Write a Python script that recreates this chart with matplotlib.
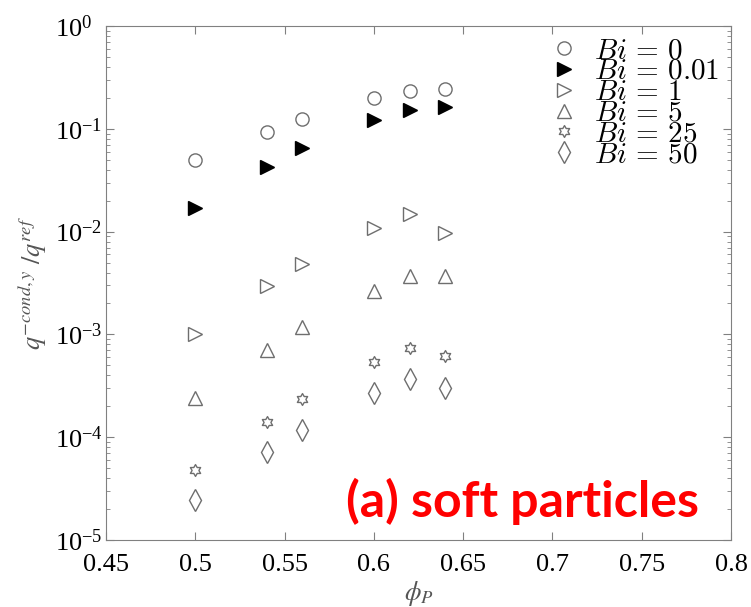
import numpy as np
import matplotlib
matplotlib.use("Agg")
import matplotlib.pyplot as plt
from matplotlib.path import Path

phi = [0.50, 0.54, 0.56, 0.60, 0.62, 0.64]
bi_labels = ["0", "0.01", "1", "5", "25", "50"]
q_bi0 = [0.050, 0.094, 0.124, 0.200, 0.233, 0.244]
q_bi001 = [0.0168, 0.0422, 0.065, 0.122, 0.152, 0.163]
q_bi1 = [1.0e-3, 2.98e-3, 4.8e-3, 0.0109, 0.0149, 0.0096]
q_bi5 = [2.42e-4, 7.05e-4, 1.19e-3, 2.66e-3, 3.7e-3, 3.7e-3]
q_bi25 = [4.83e-5, 1.42e-4, 2.35e-4, 5.35e-4, 7.38e-4, 6.2e-4]
q_bi50 = [2.45e-5, 7.1e-5, 1.17e-4, 2.71e-4, 3.68e-4, 3.03e-4]
series = [q_bi0, q_bi001, q_bi1, q_bi5, q_bi25, q_bi50]
xticks = [0.45, 0.5, 0.55, 0.6, 0.65, 0.7, 0.75, 0.8]
xticklabels = ["0.45", "0.5", "0.55", "0.6", "0.65", "0.7", "0.75", "0.8"]

# hexagram marker shape
ang_out = np.deg2rad(90 + 60 * np.arange(6))
ang_in = ang_out + np.deg2rad(30)
r_in = 1 / np.sqrt(3)
verts = []
for ao, ai in zip(ang_out, ang_in):
    verts.append((np.cos(ao), np.sin(ao)))
    verts.append((r_in * np.cos(ai), r_in * np.sin(ai)))
verts.append(verts[0])
hexagram = Path(verts, closed=True)

gray = "#6e6e6e"
styles = [
    dict(marker="o", mfc="none", mec=gray, ms=9.5),
    dict(marker=">", mfc="black", mec="black", ms=10),
    dict(marker=">", mfc="none", mec=gray, ms=10),
    dict(marker="^", mfc="none", mec=gray, ms=10),
    dict(marker=hexagram, mfc="none", mec=gray, ms=8.5),
    dict(marker="d", mfc="none", mec=gray, ms=11),
]

plt.rcParams["font.family"] = ["Liberation Serif", "DejaVu Serif"]
plt.rcParams["mathtext.fontset"] = "stix"

fig = plt.figure(figsize=(7.51, 6.07), dpi=100)
ax = fig.add_axes([106 / 751, 67 / 607, 625 / 751, 514 / 607])

for vals, st, lab in zip(series, styles, bi_labels):
    kw = dict(st)
    m = kw.pop("marker")
    ax.plot(phi, vals, linestyle="none", marker=m, mew=1.0,
            label=r"$Bi\,=\,%s$" % lab, **kw)

ax.set_yscale("log")
ax.set_xlim(0.45, 0.8)
ax.set_ylim(1e-5, 1)
ax.set_xticks(xticks)
ax.set_xticklabels(xticklabels)
ax.tick_params(axis="both", which="both", direction="in", top=True, right=True,
               labelsize=19, color="#808080")
ax.tick_params(axis="both", which="major", length=6)
ax.tick_params(axis="x", which="major", pad=10)
ax.tick_params(axis="y", which="major", pad=37)
ax.tick_params(axis="y", which="minor", length=3)
for lbl in ax.get_yticklabels():
    lbl.set_horizontalalignment("left")
for s in ax.spines.values():
    s.set_color("#808080")

ax.set_xlabel(r"$\phi_P$", fontsize=19, color="#555555", labelpad=2)
ax.set_ylabel(r"$q^{-cond,y}\ /q^{ref}$", fontsize=19, color="#555555", labelpad=4)

leg = ax.legend(loc="upper right", frameon=False, labelspacing=-0.19,
                handletextpad=0.6, borderaxespad=0.0, handlelength=0.9,
                borderpad=0.4, prop={"size": 21, "math_fontfamily": "cm"})
for t in leg.get_texts():
    t.set_math_fontfamily("cm")

ax.text(0.948, 0.045, "(a) soft particles", transform=ax.transAxes, ha="right",
        va="baseline", color="#ff0000", fontsize=36, fontweight="bold",
        family=["Lato", "DejaVu Sans"])

fig.savefig("out.png", dpi=100)
